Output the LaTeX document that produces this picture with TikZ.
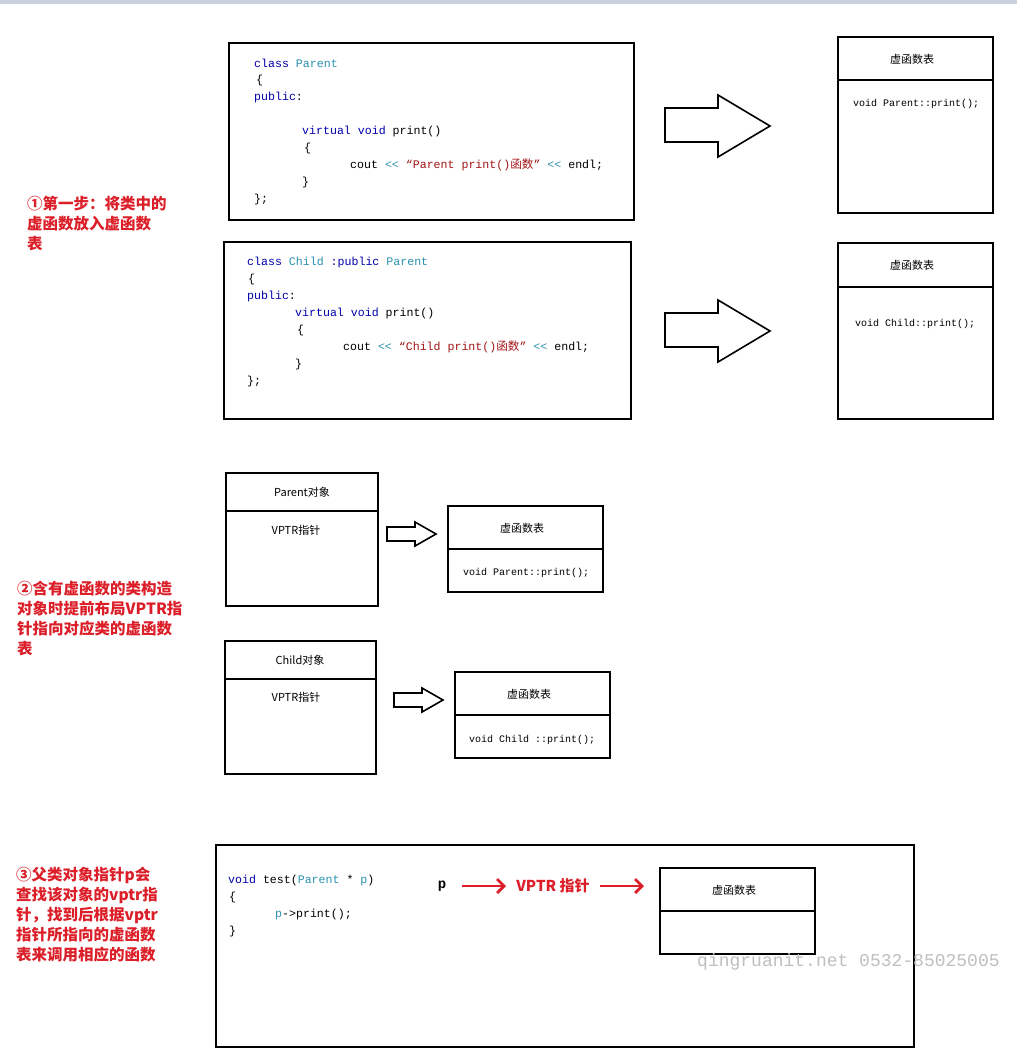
\documentclass[tikz,border=0pt]{standalone}
\usetikzlibrary{arrows.meta}
\usepackage{fontspec}
\setmainfont{Noto Sans CJK SC}
\newfontfamily\cjk{Noto Sans CJK SC}
\newfontfamily\codef{Liberation Mono}
\newfontfamily\wmf{Liberation Mono}
\definecolor{kw}{RGB}{0,0,170}
\definecolor{cls}{RGB}{43,145,175}
\definecolor{str}{RGB}{163,21,21}
\definecolor{rd}{RGB}{220,30,40}
\begin{document}
\begin{tikzpicture}[x=1pt,y=-1pt,
 box/.style={draw=black,line width=2.2pt},
 code/.style={anchor=west,inner sep=0,font=\codef\fontsize{11.6}{13}\selectfont},
 vcode/.style={anchor=west,inner sep=0,font=\codef\fontsize{10}{12}\selectfont},
 lbl/.style={anchor=west,inner sep=0,text=rd,font=\cjk\bfseries\fontsize{15.5}{20}\selectfont,align=left},
 small/.style={inner sep=0,font=\cjk\fontsize{11}{13}\selectfont},
 hollow/.style={draw=black,line width=1.6pt,fill=white},
 red/.style={draw=rd,line width=2.8pt,-{Straight Barb[length=7pt,width=14pt,line width=2.8pt]}}]
\useasboundingbox (0,0) rectangle (1017,1058);
\fill[white] (0,0) rectangle (1017,1058);
\fill[fill={rgb,255:red,200;green,208;blue,222}] (0,0) rectangle (1017,4);
% code 1
\draw[box] (229,43) rectangle (634,220);
\node[code] (a1) at (254,63) {\textcolor{kw}{class} \textcolor{cls}{Parent}};
\node[code] (a2) at (256,80) {\{};
\node[code] (a3) at (254,97) {\textcolor{kw}{public}:};
\node[code] (a4) at (302,131) {\textcolor{kw}{virtual} \textcolor{kw}{void} print()};
\node[code] (a5) at (304,148) {\{};
\node[code] (a6) at (350,165) {cout \textcolor{cls}{<<} \textcolor{str}{“Parent print(){\cjk 函数}”} \textcolor{cls}{<<} endl;};
\node[code] (a7) at (302,182) {\}};
\node[code] (a8) at (254,199) {\};};
% code 2
\draw[box] (224,242) rectangle (631,419);
\node[code] (b1) at (247,262) {\textcolor{kw}{class} \textcolor{cls}{Child} \textcolor{kw}{:public} \textcolor{cls}{Parent}};
\node[code] (b2) at (248,279) {\{};
\node[code] (b3) at (247,296) {\textcolor{kw}{public}:};
\node[code] (b4) at (295,313) {\textcolor{kw}{virtual} \textcolor{kw}{void} print()};
\node[code] (b5) at (297,330) {\{};
\node[code] (b6) at (343,347) {cout \textcolor{cls}{<<} \textcolor{str}{“Child print(){\cjk 函数}”} \textcolor{cls}{<<} endl;};
\node[code] (b7) at (295,364) {\}};
\node[code] (b8) at (247,381) {\};};
% big hollow arrows
\draw[hollow] (665,108)--(718,108)--(718,95)--(770,126)--(718,157)--(718,142)--(665,142)--cycle;
\draw[hollow] (665,313)--(718,313)--(718,300)--(770,331)--(718,362)--(718,347)--(665,347)--cycle;
% vtables top
\draw[box] (838,37) rectangle (993,213); \draw[box] (838,80)--(993,80);
\node[small] (v1) at (912,59) {虚函数表};
\node[vcode] (v1c) at (853,104) {void Parent::print();};
\draw[box] (838,243) rectangle (993,419); \draw[box] (838,287)--(993,287);
\node[small] (v2) at (912,265) {虚函数表};
\node[vcode] (v2c) at (855,324) {void Child::print();};
% step 2
\draw[box] (226,473) rectangle (378,606); \draw[box] (226,511)--(378,511);
\node[small] (p1) at (302,492) {Parent对象};
\node[small] (p2) at (296,530) {VPTR指针};
\draw[hollow] (387,527)--(415,527)--(415,522)--(436,534)--(415,546)--(415,541)--(387,541)--cycle;
\draw[box] (448,506) rectangle (603,592); \draw[box] (448,549)--(603,549);
\node[small] (v3) at (522,528) {虚函数表};
\node[vcode] (v3c) at (463,573) {void Parent::print();};
\draw[box] (225,641) rectangle (376,774); \draw[box] (225,679)--(376,679);
\node[small] (c1) at (300,660) {Child对象};
\node[small] (c2) at (296,697) {VPTR指针};
\draw[hollow] (394,693)--(422,693)--(422,688)--(443,700)--(422,712)--(422,707)--(394,707)--cycle;
\draw[box] (455,672) rectangle (610,758); \draw[box] (455,715)--(610,715);
\node[small] (v4) at (529,694) {虚函数表};
\node[vcode] (v4c) at (469,740) {void Child ::print();};
% step 3
\draw[box] (216,845) rectangle (914,1047);
\node[code] (t1) at (228,880) {\textcolor{kw}{void} test(\textcolor{cls}{Parent} * \textcolor{cls}{p})};
\node[code] (t2) at (229,897) {\{};
\node[code] (t3) at (275,914) {\textcolor{cls}{p}->print();};
\node[code] (t4) at (229,931) {\}};
\node[inner sep=0,font=\codef\bfseries\fontsize{14}{16}\selectfont] (pp) at (442,886) {p};
\node[inner sep=0,text=rd,font=\cjk\bfseries\fontsize{15}{17}\selectfont] (vp) at (553,886) {VPTR 指针};
\draw[box] (660,868) rectangle (815,954); \draw[box] (660,911)--(815,911);
\node[small] (v5) at (734,890) {虚函数表};
\draw[red] (462,886)--(506,886);
\draw[red] (600,886)--(644,886);
\node[anchor=west,inner sep=0,text=black!25,font=\wmf\fontsize{18}{20}\selectfont] (wm) at (697,962) {qingruanit.net 0532-85025005};
% labels
\node[lbl] (s1) at (27,224) {①第一步：将类中的\\虚函数放入虚函数\\表};
\node[lbl] (s2) at (17,619) {②含有虚函数的类构造\\对象时提前布局VPTR指\\针指向对应类的虚函数\\表};
\node[lbl] (s3) at (16,915) {③父类对象指针p会\\查找该对象的vptr指\\针，找到后根据vptr\\指针所指向的虚函数\\表来调用相应的函数};
\end{tikzpicture}
\end{document}
